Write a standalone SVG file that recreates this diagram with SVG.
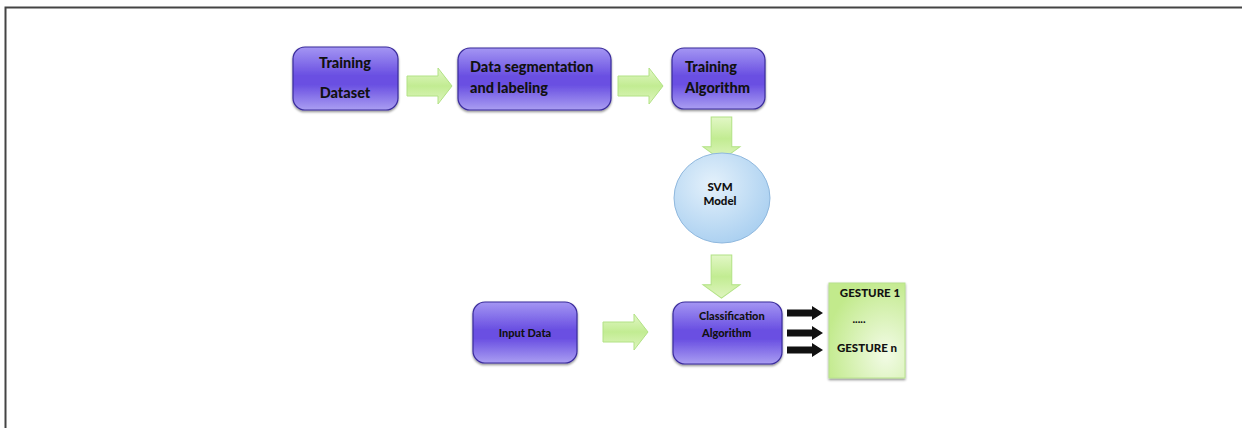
<svg xmlns="http://www.w3.org/2000/svg" width="1242" height="428" viewBox="0 0 1242 428">
  <style>
    .box { stroke: #3a2c9c; stroke-width: 1.2; filter: url(#shadow); }
    .big { font-family: Lato, "Open Sans", "Liberation Sans", sans-serif; font-weight: 900; font-size: 14.5px; fill: #111; }
    .small { font-family: Lato, "Open Sans", "Liberation Sans", sans-serif; font-weight: 900; font-size: 11px; fill: #111; }
    .garrow { fill: url(#greenArrow); stroke: #b2e285; stroke-width: 1; }
    .barrow { fill: #111; }
  </style>
  <defs>
    <linearGradient id="purple" x1="0" y1="0" x2="0" y2="1">
      <stop offset="0" stop-color="#a496f3"/>
      <stop offset="0.45" stop-color="#6a50e2"/>
      <stop offset="0.6" stop-color="#6a50e2"/>
      <stop offset="1" stop-color="#aa9ef2"/>
    </linearGradient>
    <linearGradient id="greenArrow" x1="0" y1="0" x2="0" y2="1">
      <stop offset="0" stop-color="#e2f7c6"/>
      <stop offset="0.5" stop-color="#c2ec92"/>
      <stop offset="1" stop-color="#dff5c0"/>
    </linearGradient>
    <linearGradient id="greenArrowV" x1="0" y1="0" x2="1" y2="0">
      <stop offset="0" stop-color="#e2f7c6"/>
      <stop offset="0.5" stop-color="#c2ec92"/>
      <stop offset="1" stop-color="#dff5c0"/>
    </linearGradient>
    <radialGradient id="blue" cx="0.4" cy="0.35" r="0.7">
      <stop offset="0" stop-color="#e4f1fb"/>
      <stop offset="1" stop-color="#a9cff0"/>
    </radialGradient>
    <radialGradient id="green" cx="0.75" cy="0.75" r="0.8">
      <stop offset="0" stop-color="#f2fbe6"/>
      <stop offset="1" stop-color="#c2ea8c"/>
    </radialGradient>
    <filter id="shadow" x="-10%" y="-10%" width="120%" height="130%">
      <feDropShadow dx="0" dy="1.5" stdDeviation="1" flood-color="#000" flood-opacity="0.45"/>
    </filter>
    <!-- right-pointing block arrow, 45 x 36 -->
    <path id="blockArrow" d="M0,8 H31 V0 L45,18 L31,36 V28 H0 Z"/>
    <!-- small solid arrow, 36 x 14 -->
    <path id="thinArrow" d="M0,3.5 H25 V0 L36,7 L25,14 V10.5 H0 Z"/>
  </defs>

  <rect width="1242" height="428" fill="#fff"/>

  <!-- frame -->
  <path d="M5.5,428 V7.5 H1242" fill="none" stroke="#444" stroke-width="2"/>

  <g id="connectors">
    <use href="#blockArrow" class="garrow" transform="translate(407,68)"/>
    <use href="#blockArrow" class="garrow" transform="translate(618,68)"/>
    <use href="#blockArrow" class="garrow" style="fill:url(#greenArrowV)" transform="translate(740,117) rotate(90) scale(0.96,1.03)"/>
    <use href="#blockArrow" class="garrow" style="fill:url(#greenArrowV)" transform="translate(740,255) rotate(90) scale(0.96,1.03)"/>
    <use href="#blockArrow" class="garrow" transform="translate(603,314)"/>
    <use href="#thinArrow" class="barrow" transform="translate(787,306)"/>
    <use href="#thinArrow" class="barrow" transform="translate(787,326)"/>
    <use href="#thinArrow" class="barrow" transform="translate(787,343)"/>
  </g>

  <g id="training-dataset">
    <rect class="box" x="293" y="47" width="105" height="63" rx="12" fill="url(#purple)"/>
    <text class="big" x="345" y="68" text-anchor="middle">Training</text>
    <text class="big" x="345" y="98" text-anchor="middle">Dataset</text>
  </g>

  <g id="data-segmentation">
    <rect class="box" x="458" y="48" width="153" height="62" rx="12" fill="url(#purple)"/>
    <text class="big" x="470" y="72">Data segmentation</text>
    <text class="big" x="470" y="93">and labeling</text>
  </g>

  <g id="training-algorithm">
    <rect class="box" x="672" y="48" width="93" height="61" rx="12" fill="url(#purple)"/>
    <text class="big" x="685" y="72">Training</text>
    <text class="big" x="685" y="93">Algorithm</text>
  </g>

  <g id="svm-model">
    <ellipse cx="722" cy="198" rx="48" ry="45" fill="url(#blue)" stroke="#8fb8de" stroke-width="1"/>
    <text class="small" x="720" y="191" text-anchor="middle" style="font-size:11.5px">SVM</text>
    <text class="small" x="720" y="205" text-anchor="middle" style="font-size:11.5px">Model</text>
  </g>

  <g id="input-data">
    <rect class="box" x="473" y="302" width="104" height="61" rx="12" fill="url(#purple)"/>
    <text class="small" x="525" y="337" text-anchor="middle">Input Data</text>
  </g>

  <g id="classification-algorithm">
    <rect class="box" x="673" y="302" width="109" height="62" rx="12" fill="url(#purple)"/>
    <text class="small" x="699" y="320">Classification</text>
    <text class="small" x="702" y="337">Algorithm</text>
  </g>

  <g id="gestures">
    <rect x="829" y="283" width="76" height="95" fill="url(#green)" stroke="#b8e28e" stroke-width="1" filter="url(#shadow)"/>
    <text class="small" x="870" y="297" text-anchor="middle" style="font-size:11.5px">GESTURE 1</text>
    <text class="small" x="859" y="323" text-anchor="middle">.....</text>
    <text class="small" x="867" y="352" text-anchor="middle" style="font-size:11.5px">GESTURE n</text>
  </g>
</svg>
